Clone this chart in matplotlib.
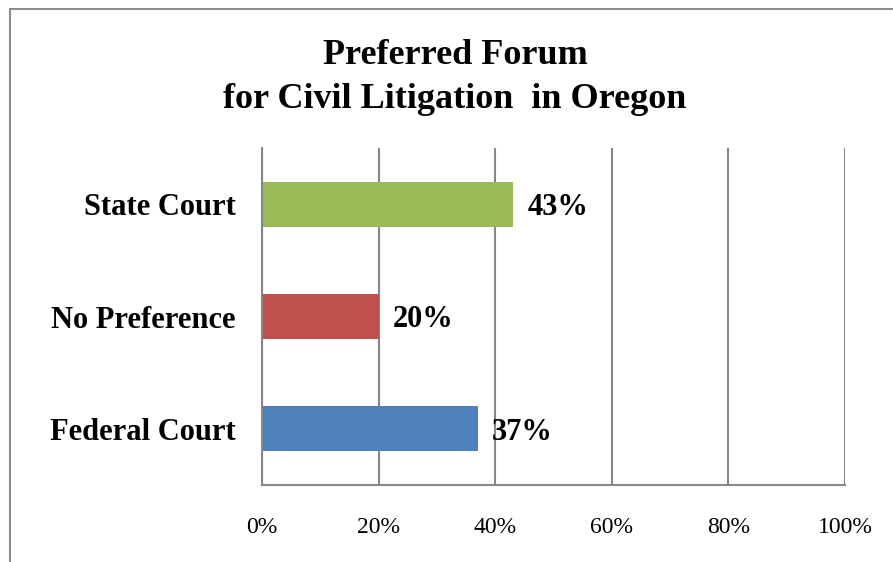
import matplotlib.pyplot as plt
import matplotlib.transforms as mtransforms
from matplotlib.patches import Rectangle

categories = ['Federal Court', 'No Preference', 'State Court']
values = [37, 20, 43]
colors = ['#4F81BD', '#C0504D', '#9BBB59']
xticks = [0, 20, 40, 60, 80, 100]

plt.rcParams['font.family'] = ['Liberation Serif', 'DejaVu Serif']

fig = plt.figure(figsize=(8.93, 5.62), dpi=100)
W, H = 893, 562

# outer chart frame (runs off the right and bottom edges)
fig.patches.append(Rectangle((10 / W, -0.1), 1.2, (562 - 9) / H + 0.1,
                             transform=fig.transFigure, fill=False,
                             edgecolor='#8c8c8c', linewidth=1.5))

ax = fig.add_axes([262 / W, (562 - 485) / H, 583 / W, (485 - 148) / H])
ax.barh(range(len(categories)), values, height=0.4, color=colors, zorder=3)

for i, v in enumerate(values):
    ax.text(v + 2.5, i - 0.03, f'{v}%', va='center', ha='left',
            fontsize=22, fontweight='bold', zorder=4)

ax.set_xlim(0, 100)
ax.set_ylim(-0.5, 2.5)
ax.set_xticks(xticks)
ax.set_xticklabels([f'{t}%' for t in xticks], fontsize=17)
ax.set_yticks(range(len(categories)))
ax.set_yticklabels(categories, fontsize=22, fontweight='bold')
# labels sit a touch below the bar centres in the original
shift = mtransforms.ScaledTranslation(0, -3 / 100, fig.dpi_scale_trans)
for lab in ax.get_yticklabels():
    lab.set_transform(lab.get_transform() + shift)
ax.tick_params(axis='x', length=0, pad=23)
ax.tick_params(axis='y', length=0, pad=19)

ax.xaxis.grid(True, color='#878787', linewidth=1.5, zorder=1)
for s in ['top', 'right']:
    ax.spines[s].set_visible(False)
for s in ['left', 'bottom']:
    ax.spines[s].set_color('#878787')
    ax.spines[s].set_linewidth(1.5)
    ax.spines[s].set_zorder(5)

fig.text(455 / W, 1 - 55 / H, 'Preferred Forum', ha='center', va='center',
         fontsize=26, fontweight='bold')
fig.text(455 / W, 1 - 99 / H, 'for Civil Litigation  in Oregon', ha='center',
         va='center', fontsize=26, fontweight='bold')

fig.savefig('out.png', dpi=100)
